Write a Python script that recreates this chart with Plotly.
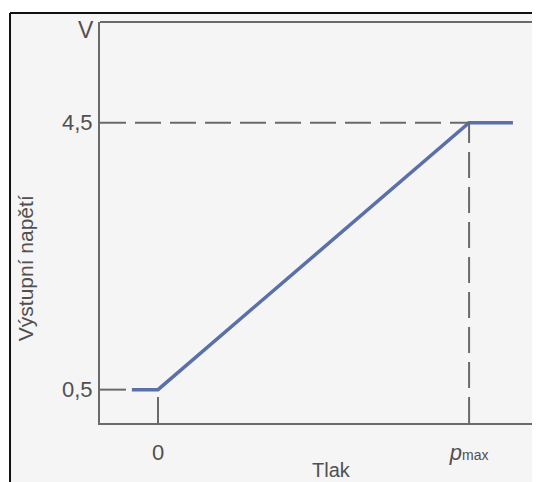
import plotly.graph_objects as go

# Data (pressure in units of p_max, output voltage in V)
pressure = [-0.084, 0.0, 1.0, 1.141]
voltage = [0.5, 0.5, 4.5, 4.5]

x_tick_vals = [0.0, 1.0]
x_tick_text = ["0", "<i>p</i><span style='font-size:14px'>max</span>"]
y_tick_vals = [0.5, 4.5]
y_tick_text = ["0,5", "4,5"]

x_range = [-0.1865, 1.228]
y_range = [0.0, 6.01]

FONT = "Liberation Sans, Arial, sans-serif"
TXT = "#505050"
AX = "#6a6a6a"

fig = go.Figure()
fig.add_trace(go.Scatter(
    x=pressure, y=voltage, mode="lines",
    line=dict(color="#5b6fa9", width=3.5),
    hoverinfo="skip", showlegend=False, cliponaxis=False,
))

dash = "26px,9px"
shapes = [
    # white margins outside the scanned frame
    dict(type="rect", xref="paper", yref="paper", x0=-0.3, x1=1.2, y0=1.0224, y1=1.2,
         fillcolor="white", line=dict(width=0), layer="below"),
    dict(type="rect", xref="paper", yref="paper", x0=-0.3, x1=-0.2045, y0=-0.3, y1=1.2,
         fillcolor="white", line=dict(width=0), layer="below"),
    dict(type="line", xref="paper", yref="paper", x0=-0.2045, x1=-0.2045, y0=1.0224, y1=-0.3,
         line=dict(color="#111111", width=2)),
    dict(type="line", xref="paper", yref="paper", x0=-0.2045, x1=1.2, y0=1.0224, y1=1.0224,
         line=dict(color="#111111", width=2)),
    # top gray border of plot area
    dict(type="line", xref="paper", yref="paper", x0=0, x1=1.2, y0=1, y1=1,
         line=dict(color=AX, width=2)),
    # dashed reference lines
    dict(type="line", xref="x", yref="y", x0=x_range[0], x1=x_tick_vals[1], y0=y_tick_vals[1], y1=y_tick_vals[1],
         line=dict(color=AX, width=2, dash=dash)),
    dict(type="line", xref="x", yref="y", x0=x_tick_vals[1], x1=x_tick_vals[1], y0=y_range[0], y1=y_tick_vals[1],
         line=dict(color=AX, width=2, dash=dash)),
    dict(type="line", xref="x", yref="y", x0=x_range[0], x1=pressure[0], y0=y_tick_vals[0], y1=y_tick_vals[0],
         line=dict(color=AX, width=2, dash=dash)),
    dict(type="line", xref="x", yref="y", x0=x_tick_vals[0], x1=x_tick_vals[0], y0=y_range[0], y1=y_tick_vals[0],
         line=dict(color=AX, width=2, dash=dash)),
]

annotations = [
    dict(text="V", xref="paper", yref="paper", x=-0.009, y=0.98, xanchor="right", yanchor="middle",
         showarrow=False, font=dict(family=FONT, size=23, color=TXT)),
    dict(text="Výstupní napětí", xref="paper", yref="paper", x=-0.170, y=0.3865, textangle=-90,
         xanchor="center", yanchor="middle", showarrow=False, font=dict(family=FONT, size=21, color=TXT)),
    dict(text="Tlak", xref="paper", yref="paper", x=(331 - 100) / 440, y=(423 - 470) / 401,
         xanchor="center", yanchor="middle", showarrow=False, font=dict(family=FONT, size=20, color=TXT)),
]

fig.update_layout(
    width=540, height=482,
    margin=dict(l=92, r=8, t=14, b=67, pad=0),
    paper_bgcolor="#f5f5f5", plot_bgcolor="rgba(0,0,0,0)",
    showlegend=False,
    shapes=shapes, annotations=annotations,
    xaxis=dict(range=x_range, showgrid=False, zeroline=False, showline=True,
               linecolor=AX, linewidth=2, tickvals=x_tick_vals, ticktext=x_tick_text,
               ticks="", ticklabelstandoff=9, fixedrange=True,
               tickfont=dict(family=FONT, size=22, color=TXT)),
    yaxis=dict(range=y_range, showgrid=False, zeroline=False, showline=True,
               linecolor=AX, linewidth=2, tickvals=y_tick_vals, ticktext=y_tick_text,
               ticks="", ticklabelstandoff=1, fixedrange=True,
               tickfont=dict(family=FONT, size=22, color=TXT)),
)

fig.write_html("out.html")
